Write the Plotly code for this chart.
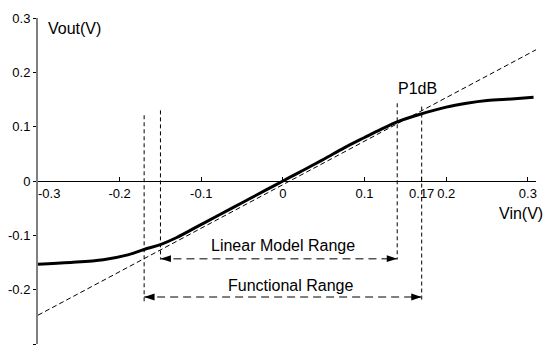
import plotly.graph_objects as go

# ---- data ----
vin = [-0.30, -0.26, -0.22, -0.19, -0.17, -0.15, -0.13, -0.105, -0.08, -0.05, -0.02,
       0.0, 0.02, 0.05, 0.075, 0.10, 0.12, 0.14, 0.166, 0.20, 0.225, 0.25, 0.28, 0.307]
vout = [-0.153, -0.150, -0.145, -0.136, -0.126, -0.117, -0.104, -0.084, -0.064, -0.040, -0.016,
        0.0, 0.016, 0.040, 0.061, 0.080, 0.095, 0.109, 0.122, 0.136, 0.143, 0.148, 0.151, 0.154]

tangent_x = [-0.30, 0.31]
tangent_y = [-0.247, 0.2415]

functional_range = [-0.17, 0.17]
linear_range = [-0.15, 0.14]

x_tick_vals = [-0.3, -0.2, -0.1, 0, 0.1, 0.17, 0.2, 0.3]
x_tick_text = ["-0.3", "-0.2", "-0.1", "0", "0.1", "0.17", "0.2", "0.3"]
y_tick_vals = [-0.3, -0.2, -0.1, 0, 0.1, 0.2, 0.3]
y_tick_text = ["-0.3", "-0.2", "-0.1", "0", "0.1", "0.2", "0.3"]

FONT = "Liberation Sans, Arial, sans-serif"

fig = go.Figure()

# linear model (tangent) line
fig.add_trace(go.Scatter(x=tangent_x, y=tangent_y, mode="lines",
                         line=dict(color="black", width=1, dash="5px,3px"),
                         hoverinfo="skip"))

# vertical dashed bound lines
verticals = [
    (functional_range[0], 0.121, -0.223),
    (linear_range[0], 0.130, -0.1445),
    (linear_range[1], 0.143, -0.1445),
    (functional_range[1], 0.137, -0.223),
]
for xv, ytop, ybot in verticals:
    fig.add_trace(go.Scatter(x=[xv, xv], y=[ytop, ybot], mode="lines",
                             line=dict(color="black", width=1, dash="4px,3px"),
                             hoverinfo="skip"))

# range arrows
arrow_y = {"lin": -0.143, "func": -0.2135}
for rng, yv in [(linear_range, arrow_y["lin"]), (functional_range, arrow_y["func"])]:
    fig.add_trace(go.Scatter(x=rng, y=[yv, yv], mode="lines",
                             line=dict(color="#555555", width=1.5, dash="8px,5px"),
                             hoverinfo="skip"))
    fig.add_trace(go.Scatter(x=rng, y=[yv, yv], mode="markers",
                             marker=dict(symbol="arrow", size=11, angle=[-90, 90],
                                         color="black", line=dict(width=0)),
                             hoverinfo="skip"))

# transfer curve
fig.add_trace(go.Scatter(x=vin, y=vout, mode="lines", line=dict(color="black", width=3, shape="spline"),
                         hoverinfo="skip"))

annos = [
    dict(x=-0.29, y=0.28, text="Vout(V)", xanchor="left", yanchor="middle"),
    dict(x=0.305, y=-0.06, text="Vin(V)", xanchor="right", yanchor="middle", xshift=13),
    dict(x=linear_range[1], y=0.170, text="P1dB", xanchor="left", yanchor="middle", xshift=-1),
    dict(x=0.0, y=-0.119, text="Linear Model Range", xanchor="center", yanchor="middle"),
    dict(x=0.01, y=-0.192, text="Functional Range", xanchor="center", yanchor="middle"),
]
for a in annos:
    fig.add_annotation(showarrow=False, font=dict(family=FONT, size=16, color="black"), **a)

# the first x tick label sits to the right of the y axis
fig.add_annotation(x=x_tick_vals[0], y=0, text=x_tick_text[0], showarrow=False,
                   xanchor="left", yanchor="top", yshift=-3, xshift=-2,
                   font=dict(family=FONT, size=13, color="black"))

fig.update_layout(
    width=547, height=351,
    margin=dict(l=38, r=11, t=18, b=7),
    paper_bgcolor="white", plot_bgcolor="white",
    showlegend=False,
    font=dict(family=FONT, size=13, color="black"),
    xaxis=dict(range=[-0.3, 0.31], domain=[0, 1], anchor="free", position=0.5,
               showline=True, linecolor="black", linewidth=1.3,
               ticks="inside", ticklen=4, tickcolor="black", tickwidth=1,
               tickvals=x_tick_vals[1:], ticktext=x_tick_text[1:],
               tickfont=dict(family=FONT, size=13, color="black"),
               showgrid=False, zeroline=False, fixedrange=True),
    yaxis=dict(range=[-0.3, 0.3], showline=True, linecolor="#808080", linewidth=2,
               ticks="outside", ticklen=3, tickcolor="black", tickwidth=1,
               tickvals=y_tick_vals, ticktext=y_tick_text,
               tickfont=dict(family=FONT, size=13, color="black"),
               showgrid=False, zeroline=False, fixedrange=True),
)

fig.write_html("out.html")
